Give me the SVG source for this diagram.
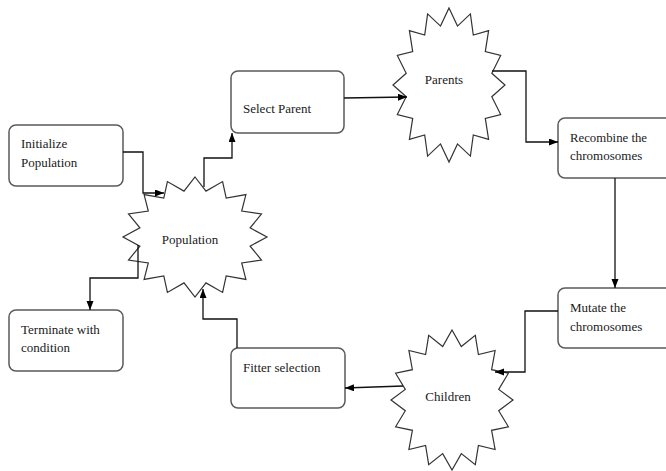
<svg xmlns="http://www.w3.org/2000/svg" width="666" height="471" viewBox="0 0 666 471">
<style>
.box{fill:#fff;stroke:#5a5a5a;stroke-width:1.5}
.star{fill:#fff;stroke:#333;stroke-width:1.2;stroke-linejoin:miter}
.t{font-family:"Liberation Serif","Times New Roman",serif;font-size:13px;fill:#1a1a1a}
.c{fill:none;stroke:#111;stroke-width:1.3}
</style>
<defs>
<marker id="ah" markerUnits="userSpaceOnUse" markerWidth="10" markerHeight="8" refX="9" refY="3.5" orient="auto">
<path d="M0,0 L9,3.5 L0,7 z" fill="#000"/>
</marker>
</defs>
<rect width="666" height="471" fill="#fff"/>
<g id="initialize">
<rect class="box" x="9" y="125" width="114" height="61" rx="7"/>
<text class="t" x="21" y="148">Initialize</text>
<text class="t" x="21" y="167">Population</text>
</g>
<g id="terminate">
<rect class="box" x="9" y="310" width="114" height="61" rx="7"/>
<text class="t" x="21" y="334">Terminate with</text>
<text class="t" x="21" y="352">condition</text>
</g>
<g id="select-parent">
<rect class="box" x="231" y="71" width="113" height="62" rx="7"/>
<text class="t" x="243" y="113">Select Parent</text>
</g>
<g id="fitter">
<rect class="box" x="231" y="348" width="114" height="60" rx="7"/>
<text class="t" x="243" y="372">Fitter selection</text>
</g>
<g id="recombine">
<rect class="box" x="558" y="118" width="120" height="60" rx="7"/>
<text class="t" x="570" y="142" textLength="77" lengthAdjust="spacingAndGlyphs">Recombine the</text>
<text class="t" x="570" y="160">chromosomes</text>
</g>
<g id="mutate">
<rect class="box" x="558" y="288" width="120" height="60" rx="7"/>
<text class="t" x="570" y="312">Mutate the</text>
<text class="t" x="570" y="331">chromosomes</text>
</g>
<g id="population">
<polygon class="star" points="195,177 206,191.1 222.6,181.6 226.2,198.1 245.9,194.6 241.7,211 261.5,214 250.1,227.9 267,237 250.1,246.1 261.5,260 241.7,263 245.9,279.4 226.2,275.9 222.6,292.4 206,282.9 195,297 184,282.9 167.4,292.4 163.8,275.9 144.1,279.4 148.3,263 128.5,260 139.9,246.1 123,237 139.9,227.9 128.5,214 148.3,211 144.1,194.6 163.8,198.1 167.4,181.6 184,191.1"/>
<text class="t" x="190" y="244" text-anchor="middle">Population</text>
</g>
<g id="parents">
<polygon class="star" points="449,8 457.5,26.1 470.4,13.9 473.3,35.1 488.6,30.6 485.3,51.6 500.7,55.5 491.8,73.3 505,85 491.8,96.7 500.7,114.5 485.3,118.4 488.6,139.4 473.3,134.9 470.4,156.1 457.5,143.9 449,162 440.5,143.9 427.6,156.1 424.7,134.9 409.4,139.4 412.7,118.4 397.3,114.5 406.2,96.7 393,85 406.2,73.3 397.3,55.5 412.7,51.6 409.4,30.6 424.7,35.1 427.6,13.9 440.5,26.1"/>
<text class="t" x="444" y="84" text-anchor="middle">Parents</text>
</g>
<g id="children">
<polygon class="star" points="452,330 461.3,346.5 475.3,335.3 478.4,354.6 495.1,350.5 491.6,369.7 508.4,373.2 498.7,389.4 513,400 498.7,410.7 508.4,426.8 491.6,430.3 495.1,449.5 478.4,445.4 475.3,464.7 461.3,453.6 452,470 442.7,453.6 428.7,464.7 425.6,445.4 408.9,449.5 412.4,430.3 395.6,426.8 405.3,410.7 391,400 405.3,389.4 395.6,373.2 412.4,369.7 408.9,350.5 425.6,354.6 428.7,335.3 442.7,346.5"/>
<text class="t" x="448" y="401" text-anchor="middle">Children</text>
</g>
<g id="connectors">
<path class="c" d="M123,152 H143 V193 H164" marker-end="url(#ah)"/>
<path class="c" d="M204,187 V158 H232 V133" marker-end="url(#ah)"/>
<path class="c" d="M344,98 L407,97" marker-end="url(#ah)"/>
<path class="c" d="M492,71 H526 V142 H558" marker-end="url(#ah)"/>
<path class="c" d="M615,178 V288" marker-end="url(#ah)"/>
<path class="c" d="M558,311 H525 V372 H495" marker-end="url(#ah)"/>
<path class="c" d="M403,386 L345,388" marker-end="url(#ah)"/>
<path class="c" d="M237,348 V319 H203 V289" marker-end="url(#ah)"/>
<path class="c" d="M138,245 V278 H90 V310" marker-end="url(#ah)"/>
</g>
</svg>
